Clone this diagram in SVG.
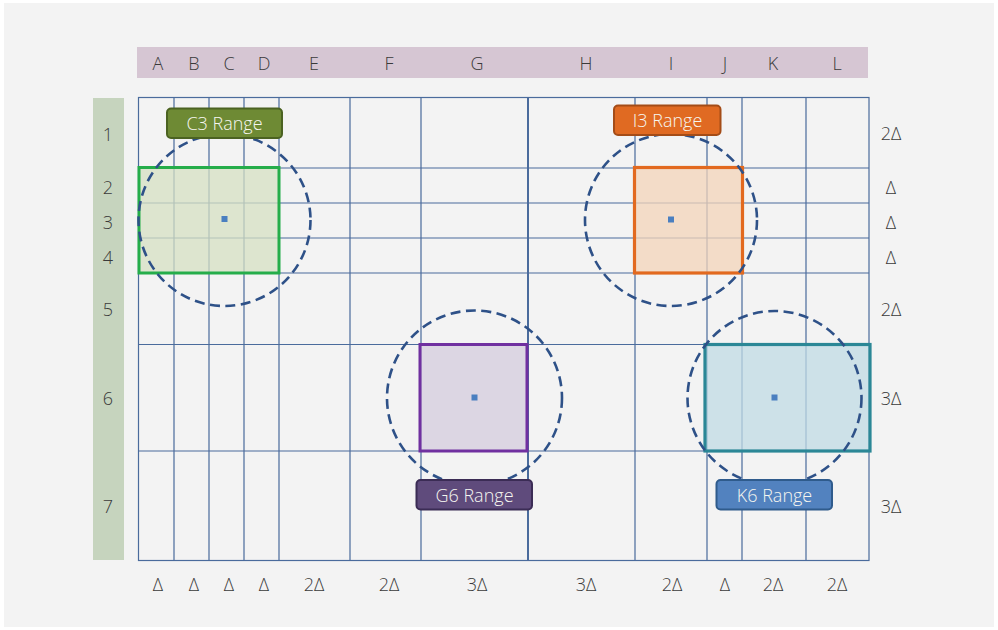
<svg xmlns="http://www.w3.org/2000/svg" width="998" height="630" viewBox="0 0 998 630">
<style>
.t{font-family:"Open Sans","Liberation Sans",sans-serif;font-size:18px;font-weight:300;fill:#3a3a3a;text-anchor:middle;dominant-baseline:central}
.g{stroke:#4a6b9c;stroke-width:1.2;fill:none}
.c{fill:none;stroke:#2e5188;stroke-width:2.6;stroke-dasharray:10 5.5}
.dot{fill:#4a7fc0}
.lt{font-family:"Open Sans","Liberation Sans",sans-serif;font-size:18px;font-weight:300;fill:#f6f6f0;text-anchor:middle;dominant-baseline:central}
</style>
<rect x="0" y="0" width="998" height="630" fill="#ffffff"/>
<rect x="4" y="3" width="990" height="624" fill="#f3f3f3"/>
<g id="header">
<rect x="137" y="47" width="731" height="31" fill="#d6c6d3"/>
<text class="t" x="158" y="63">A</text>
<text class="t" x="194" y="63">B</text>
<text class="t" x="229" y="63">C</text>
<text class="t" x="264" y="63">D</text>
<text class="t" x="314" y="63">E</text>
<text class="t" x="389" y="63">F</text>
<text class="t" x="477" y="63">G</text>
<text class="t" x="586" y="63">H</text>
<text class="t" x="671" y="63">I</text>
<text class="t" x="725" y="63">J</text>
<text class="t" x="773" y="63">K</text>
<text class="t" x="837" y="63">L</text>
</g>
<g id="rows">
<rect x="93" y="98" width="31" height="462" fill="#c6d4be"/>
<text class="t" x="108" y="134">1</text>
<text class="t" x="108" y="187">2</text>
<text class="t" x="108" y="222">3</text>
<text class="t" x="108" y="257">4</text>
<text class="t" x="108" y="309">5</text>
<text class="t" x="108" y="398">6</text>
<text class="t" x="108" y="506">7</text>
</g>
<g id="grid">
<rect class="g" x="138.5" y="97.5" width="730.5" height="463"/>
<path class="g" d="M174 97.5V560.5M209 97.5V560.5M244 97.5V560.5M279 97.5V560.5M350 97.5V560.5M421 97.5V560.5M635 97.5V560.5M707 97.5V560.5M742 97.5V560.5M806 97.5V560.5"/>
<path class="g" d="M528 97.5V560.5" style="stroke-width:2"/>
<path class="g" d="M138.5 168H869M138.5 203H869M138.5 238H869M138.5 273H869M138.5 344.5H869M138.5 451H869"/>
</g>
<g id="right-labels">
<text class="t" x="891" y="133">2Δ</text>
<text class="t" x="891" y="187">Δ</text>
<text class="t" x="891" y="222">Δ</text>
<text class="t" x="891" y="257">Δ</text>
<text class="t" x="891" y="309">2Δ</text>
<text class="t" x="891" y="398">3Δ</text>
<text class="t" x="891" y="506">3Δ</text>
</g>
<g id="bottom-labels">
<text class="t" x="158" y="584">Δ</text>
<text class="t" x="194" y="584">Δ</text>
<text class="t" x="229" y="584">Δ</text>
<text class="t" x="264" y="584">Δ</text>
<text class="t" x="314" y="584">2Δ</text>
<text class="t" x="389" y="584">2Δ</text>
<text class="t" x="477" y="584">3Δ</text>
<text class="t" x="586" y="584">3Δ</text>
<text class="t" x="672" y="584">2Δ</text>
<text class="t" x="725" y="584">Δ</text>
<text class="t" x="773" y="584">2Δ</text>
<text class="t" x="837" y="584">2Δ</text>
</g>
<g id="C3">
<rect x="139" y="167.5" width="140" height="105.5" fill="#d6e0c3" fill-opacity="0.75" stroke="#25ad4a" stroke-width="3"/>
<circle class="c" cx="224.5" cy="220" r="86"/>
<rect class="dot" x="221.5" y="216" width="6" height="6"/>
<rect x="167" y="108.5" width="115" height="29.5" rx="4" fill="#6e8a34" stroke="#4b6221" stroke-width="2"/>
<text class="lt" x="224.5" y="123">C3 Range</text>
</g>
<g id="I3">
<rect x="634.5" y="167.5" width="108" height="105.5" fill="#f3d4ba" fill-opacity="0.75" stroke="#e2691f" stroke-width="3.2"/>
<circle class="c" cx="671" cy="220" r="86"/>
<rect class="dot" x="668" y="216.5" width="6" height="6"/>
<rect x="614" y="105.5" width="106.5" height="29.5" rx="4" fill="#e06a22" stroke="#a44c17" stroke-width="2"/>
<text class="lt" x="667.5" y="120">I3 Range</text>
</g>
<g id="G6">
<rect x="420" y="344.5" width="107" height="106.5" fill="#d4ccde" fill-opacity="0.75" stroke="#7030a0" stroke-width="3"/>
<circle class="c" cx="474.5" cy="398" r="87.5"/>
<rect class="dot" x="471.5" y="394.5" width="6" height="6"/>
<rect x="416.5" y="480" width="115.5" height="29.5" rx="4" fill="#5f4b7c" stroke="#3b2c55" stroke-width="2"/>
<text class="lt" x="474.5" y="495">G6 Range</text>
</g>
<g id="K6">
<rect x="705" y="344.5" width="165" height="106.5" fill="#c0dbe4" fill-opacity="0.75" stroke="#2b8796" stroke-width="3.2"/>
<circle class="c" cx="774.5" cy="398" r="87"/>
<rect class="dot" x="771.5" y="394.5" width="6" height="6"/>
<rect x="716.5" y="480" width="115.5" height="29.5" rx="4" fill="#5282bf" stroke="#2f5b8c" stroke-width="2"/>
<text class="lt" x="774.5" y="495">K6 Range</text>
</g>
</svg>
